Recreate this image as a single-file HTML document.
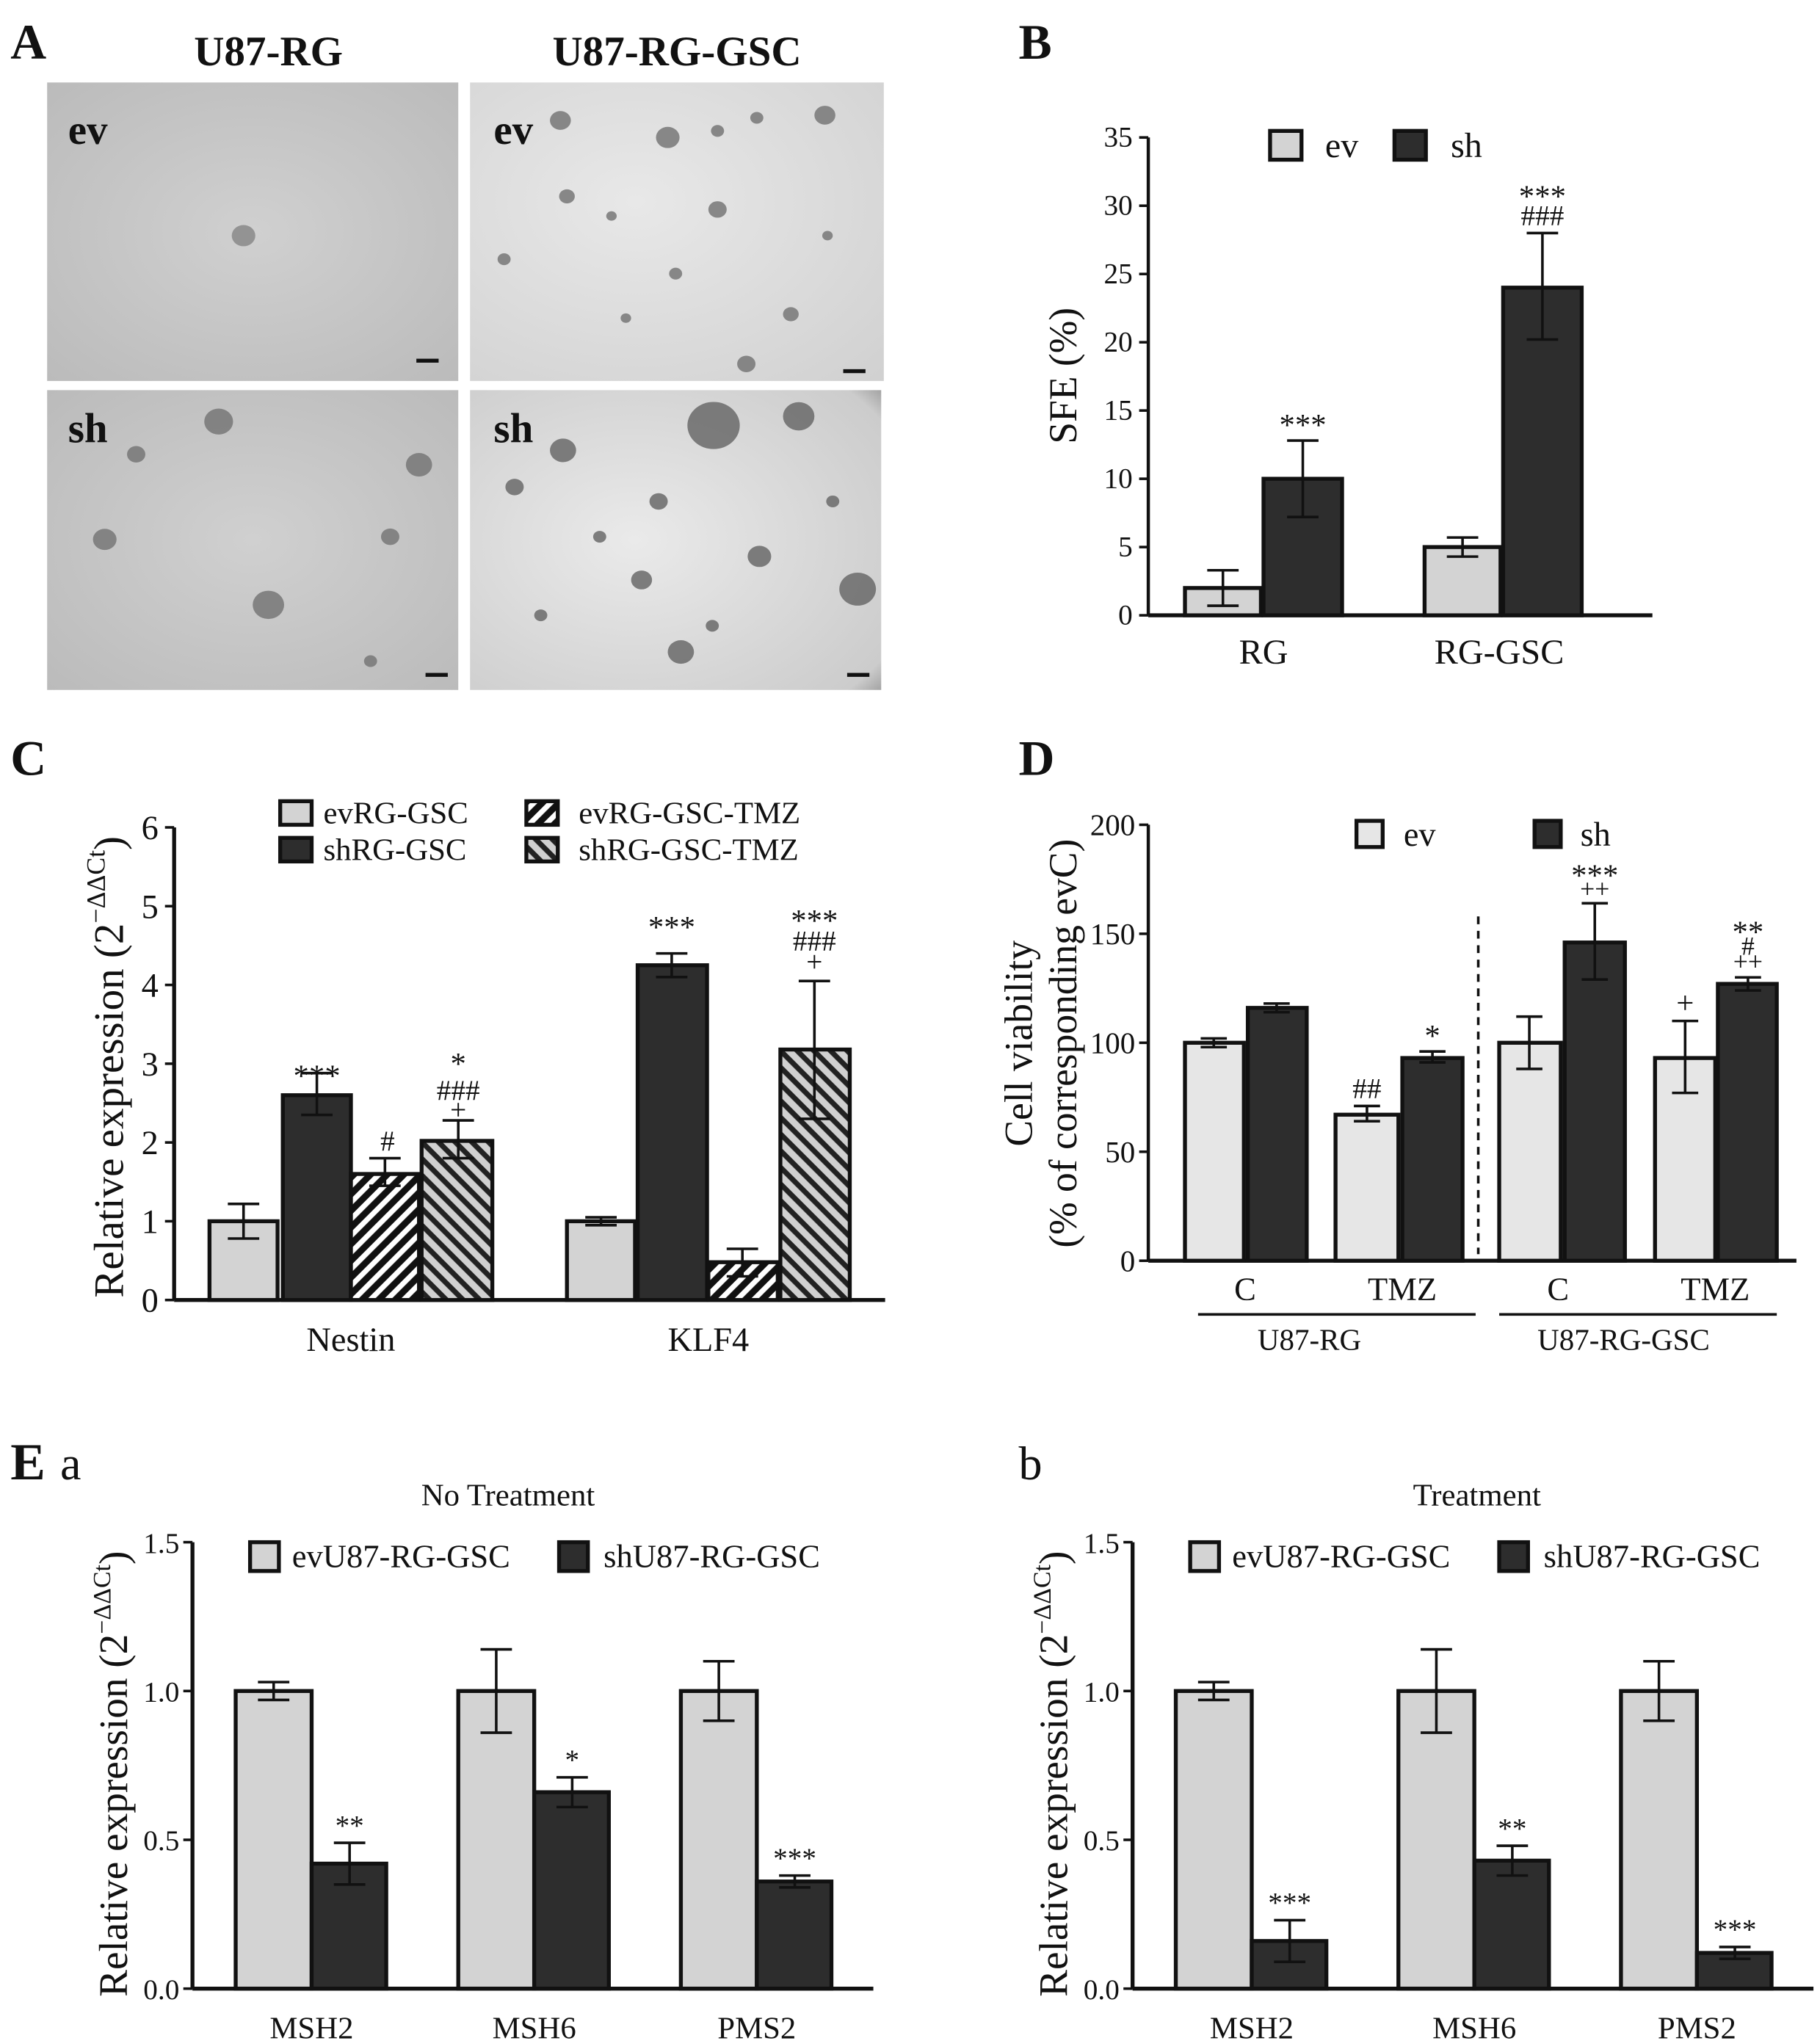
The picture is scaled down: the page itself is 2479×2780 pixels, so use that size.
<!DOCTYPE html>
<html><head><meta charset="utf-8"><style>
html,body{margin:0;padding:0;background:#fff}
svg{display:block}
text{font-family:"Liberation Serif",serif;fill:#111}
</style></head><body>
<svg id="s" width="2479" height="2780" viewBox="0 0 1390 1559" preserveAspectRatio="none" xmlns="http://www.w3.org/2000/svg">
<defs>
<pattern id="hw" patternUnits="userSpaceOnUse" width="9" height="9" patternTransform="rotate(45)"><rect width="9" height="9" fill="#111"/><rect width="4" height="9" fill="#fff"/></pattern>
<pattern id="hg" patternUnits="userSpaceOnUse" width="9" height="9" patternTransform="rotate(-45)"><rect width="9" height="9" fill="#222"/><rect width="5" height="9" fill="#d0d0d0"/></pattern>
<radialGradient id="g1" cx="0.5" cy="0.5" r="0.8"><stop offset="0" stop-color="#d0d0d0"/><stop offset="1" stop-color="#b8b8b8"/></radialGradient>
<radialGradient id="g2" cx="0.4" cy="0.4" r="0.9"><stop offset="0" stop-color="#e8e8e8"/><stop offset="1" stop-color="#cfcfcf"/></radialGradient>
<radialGradient id="g3" cx="0.4" cy="0.5" r="0.9"><stop offset="0" stop-color="#eaeaea"/><stop offset="0.8" stop-color="#cccccc"/><stop offset="1" stop-color="#555"/></radialGradient>
</defs>
<g id="root"></g>
</svg>
<script>
const R=document.getElementById('root');let h='';
function t(x,y,s,sz,o){o=o||{};h+=`<text x="${x}" y="${y}" font-size="${sz}" text-anchor="${o.a||'middle'}" ${o.b?'font-weight="bold"':''} ${o.r?`transform="rotate(-90 ${x} ${y})"`:''}>${s}</text>`;}
function L(x1,y1,x2,y2,w,d){h+=`<line x1="${x1}" y1="${y1}" x2="${x2}" y2="${y2}" stroke="#111" stroke-width="${w||2}" ${d?'stroke-dasharray="6 5"':''}/>`;}
function B(x1,x2,y0,y,f){h+=`<rect x="${x1}" y="${y}" width="${x2-x1}" height="${y0-y}" fill="${f}" stroke="#111" stroke-width="3"/>`;}
function E(xc,yt,yb,w){w=w||12;L(xc,yt,xc,yb,2);L(xc-w,yt,xc+w,yt,2);L(xc-w,yb,xc+w,yb,2);}
// Panel A
t(8,45,'A',38,{a:'start',b:1});t(205,50,'U87-RG',32,{b:1});t(517,50,'U87-RG-GSC',32,{b:1});
const im=[[36,63,314,228,'g1'],[359,63,316,228,'g2'],[36,298,314,229,'g1'],[359,298,314,229,'g3']];
im.forEach(a=>h+=`<rect x="${a[0]}" y="${a[1]}" width="${a[2]}" height="${a[3]}" fill="url(#${a[4]})"/>`);
t(52,110,'ev',32,{a:'start',b:1});t(377,110,'ev',32,{a:'start',b:1});t(52,338,'sh',32,{a:'start',b:1});t(377,338,'sh',32,{a:'start',b:1});
[[318,274],[644,282],[325,514],[647,514]].forEach(p=>h+=`<rect x="${p[0]}" y="${p[1]}" width="17" height="3" fill="#111"/>`);
function blob(x,y,r,c){h+=`<ellipse cx="${x}" cy="${y}" rx="${r}" ry="${r*0.9}" fill="${c}" opacity="0.85"/>`;}
[[186,180,9]].forEach(p=>blob(p[0],p[1],p[2],'#888'));
[[428,92,8],[510,105,9],[548,100,5],[578,90,5],[630,88,8],[433,150,6],[548,160,7],[467,165,4],[385,198,5],[516,209,5],[604,240,6],[570,278,7],[478,243,4],[632,180,4]].forEach(p=>blob(p[0],p[1],p[2],'#777'));
[[167,322,11],[320,355,10],[104,347,7],[80,412,9],[298,410,7],[205,462,12],[283,505,5]].forEach(p=>blob(p[0],p[1],p[2],'#777'));
[[545,325,20],[610,318,12],[430,344,10],[393,372,7],[503,383,7],[580,425,9],[490,443,8],[520,498,10],[655,450,14],[458,410,5],[636,383,5],[413,470,5],[544,478,5]].forEach(p=>blob(p[0],p[1],p[2],'#6a6a6a'));
// Panel B
t(778,45,'B',38,{a:'start',b:1});
{const y0=470,k=365/35,x0=877;L(x0,105,x0,y0,2.5);L(x0,y0,1262,y0,3);
for(let v=0;v<=35;v+=5){let y=y0-v*k;L(x0-7,y,x0,y,2);t(x0-12,y+7,v,22,{a:'end'});}
t(822,287,'SFE (%)',30,{r:1});
const Y=v=>y0-v*k;
B(905,963,y0,Y(2),'#d3d3d3');E(934,Y(3.3),Y(0.7));
B(965,1025,y0,Y(10),'#2d2d2d');E(995,Y(12.8),Y(7.2));t(995,Y(12.8)-4,'***',24);
B(1088,1146,y0,Y(5),'#d3d3d3');E(1117,Y(5.7),Y(4.3));
B(1148,1208,y0,Y(24),'#2d2d2d');E(1178,Y(28),Y(20.2));t(1178,158,'***',24);t(1178,172,'###',22);
t(965,507,'RG',27);t(1145,507,'RG-GSC',27);
h+=`<rect x="970" y="100" width="24" height="22" fill="#d3d3d3" stroke="#111" stroke-width="3"/>`;t(1012,120,'ev',27,{a:'start'});
h+=`<rect x="1065" y="100" width="24" height="22" fill="#2d2d2d" stroke="#111" stroke-width="3"/>`;t(1108,120,'sh',27,{a:'start'});}
// Panel C
t(8,592,'C',38,{a:'start',b:1});
{const y0=993,k=361/6,x0=133;L(x0,632,x0,y0,3);L(x0,y0,676,y0,3);
for(let v=0;v<=6;v++){let y=y0-v*k;L(x0-7,y,x0,y,2);t(x0-12,y+9,v,26,{a:'end'});}
t(94,815,'Relative expression (2<tspan font-size="20" dy="-14">−ΔΔCt</tspan><tspan dy="14">)</tspan>',32,{r:1});
const Y=v=>y0-v*k;
B(160,212,y0,Y(1),'#d3d3d3');E(186,Y(1.22),Y(0.78));
B(216,268,y0,Y(2.6),'#2d2d2d');E(242,Y(2.88),Y(2.35));t(242,Y(2.88)+10,'***',24);
B(268,320,y0,Y(1.6),'url(#hw)');E(294,Y(1.8),Y(1.45));t(296,Y(1.8)-6,'#',22);
B(322,376,y0,Y(2.02),'url(#hg)');E(350,Y(2.28),Y(1.8));t(350,Y(3)+8,'*',24);t(350,840,'###',22);t(350,855,'+',22);
B(433,485,y0,Y(1),'#d3d3d3');E(459,Y(1.05),Y(0.95));
B(487,540,y0,Y(4.25),'#2d2d2d');E(513,Y(4.4),Y(4.1));t(513,716,'***',24);
B(541,594,y0,Y(0.48),'url(#hw)');E(567,Y(0.65),Y(0.3));
B(596,649,y0,Y(3.18),'url(#hg)');E(622,Y(4.05),Y(2.3));t(622,711,'***',24);t(622,726,'###',22);t(622,742,'+',22);
t(268,1032,'Nestin',26);t(541,1032,'KLF4',26);
h+=`<rect x="214" y="612" width="24" height="18" fill="#d3d3d3" stroke="#111" stroke-width="3"/>`;t(247,629,'evRG-GSC',24,{a:'start'});
h+=`<rect x="214" y="640" width="24" height="18" fill="#2d2d2d" stroke="#111" stroke-width="3"/>`;t(247,657,'shRG-GSC',24,{a:'start'});
h+=`<rect x="402" y="612" width="24" height="18" fill="url(#hw)" stroke="#111" stroke-width="3"/>`;t(442,629,'evRG-GSC-TMZ',24,{a:'start'});
h+=`<rect x="402" y="640" width="24" height="18" fill="url(#hg)" stroke="#111" stroke-width="3"/>`;t(442,657,'shRG-GSC-TMZ',24,{a:'start'});}
// Panel D
t(778,592,'D',38,{a:'start',b:1});
{const y0=963,k=333/200,x0=877;L(x0,630,x0,y0,2.5);L(x0,y0,1372,y0,3);
for(let v=0;v<=200;v+=50){let y=y0-v*k;L(x0-7,y,x0,y,2);t(x0-10,y+8,v,23,{a:'end'});}
t(788,797,'Cell viability',30,{r:1});t(822,797,'(% of corresponding evC)',30,{r:1});
const Y=v=>y0-v*k;
B(905,950,y0,Y(100),'#e6e6e6');E(927,Y(102),Y(98),10);
B(953,998,y0,Y(116),'#2d2d2d');E(975,Y(118),Y(114),10);
B(1020,1068,y0,Y(67),'#e6e6e6');E(1044,Y(71),Y(64),10);t(1044,Y(71)-6,'##',22);
B(1071,1117,y0,Y(93),'#2d2d2d');E(1094,Y(96),Y(91),10);t(1094,Y(96)-4,'*',24);
L(1129,700,1129,958,2,1);
B(1145,1192,y0,Y(100),'#e6e6e6');E(1168,Y(112),Y(88),10);
B(1195,1241,y0,Y(146),'#2d2d2d');E(1218,Y(164),Y(129),10);t(1218,Y(172),'***',24);t(1218,Y(163)-6,'++',20);
B(1264,1310,y0,Y(93),'#e6e6e6');E(1287,Y(110),Y(77),10);t(1287,Y(110)-6,'+',24);
B(1312,1357,y0,Y(127),'#2d2d2d');E(1335,Y(130),Y(124),10);t(1335,Y(146),'**',24);t(1335,Y(138)-4,'#',20);t(1335,Y(132)-2,'++',20);
t(951,993,'C',25);t(1071,993,'TMZ',25);t(1190,993,'C',25);t(1310,993,'TMZ',25);
L(915,1004,1127,1004,2);L(1145,1004,1357,1004,2);t(1000,1031,'U87-RG',23);t(1240,1031,'U87-RG-GSC',23);
h+=`<rect x="1036" y="627" width="20" height="20" fill="#e6e6e6" stroke="#111" stroke-width="3"/>`;t(1072,646,'ev',26,{a:'start'});
h+=`<rect x="1172" y="627" width="20" height="20" fill="#2d2d2d" stroke="#111" stroke-width="3"/>`;t(1207,646,'sh',26,{a:'start'});}
// Panel E
t(8,1130,'E',40,{a:'start',b:1});t(46,1130,'a',36,{a:'start'});t(778,1130,'b',36,{a:'start'});
function E_(x0,top,title,tx,vals){const y0=1519,k=(y0-1178)/1.5;
L(x0,1178,x0,y0,3);L(x0,y0,x0+520,y0,3);
for(let v=0;v<=1.5;v+=0.5){let y=y0-v*k;L(x0-7,y,x0,y,2);t(x0-10,y+8,v.toFixed(1),22,{a:'end'});}
t(x0-50,1355,'Relative expression (2<tspan font-size="19" dy="-13">−ΔΔCt</tspan><tspan dy="13">)</tspan>',31,{r:1});
t(tx,1150,title,24);
const Y=v=>y0-v*k;
const ev=[[0.03],[0.14],[0.1]];
vals.forEach((s,i)=>{const xa=x0+33+i*170;B(xa,xa+58,y0,Y(1),'#d3d3d3');E(xa+29,Y(1+ev[i][0]),Y(1-ev[i][0]));
B(xa+58,xa+115,y0,Y(s[0]),'#2d2d2d');E(xa+87,Y(s[0]+s[1]),Y(s[0]-s[1]));t(xa+87,Y(s[0]+s[1])-6,s[2],22);
t(xa+58,1557,['MSH2','MSH6','PMS2'][i],24);});
h+=`<rect x="${x0+44}" y="1178" width="22" height="22" fill="#d3d3d3" stroke="#111" stroke-width="3"/>`;t(x0+76,1197,'evU87-RG-GSC',25,{a:'start'});
h+=`<rect x="${x0+280}" y="1178" width="22" height="22" fill="#2d2d2d" stroke="#111" stroke-width="3"/>`;t(x0+314,1197,'shU87-RG-GSC',25,{a:'start'});}
E_(147,0,'No Treatment',388,[[0.42,0.07,'**'],[0.66,0.05,'*'],[0.36,0.02,'***']]);
E_(865,0,'Treatment',1128,[[0.16,0.07,'***'],[0.43,0.05,'**'],[0.12,0.02,'***']]);
R.innerHTML=h;
</script>
</body></html>
